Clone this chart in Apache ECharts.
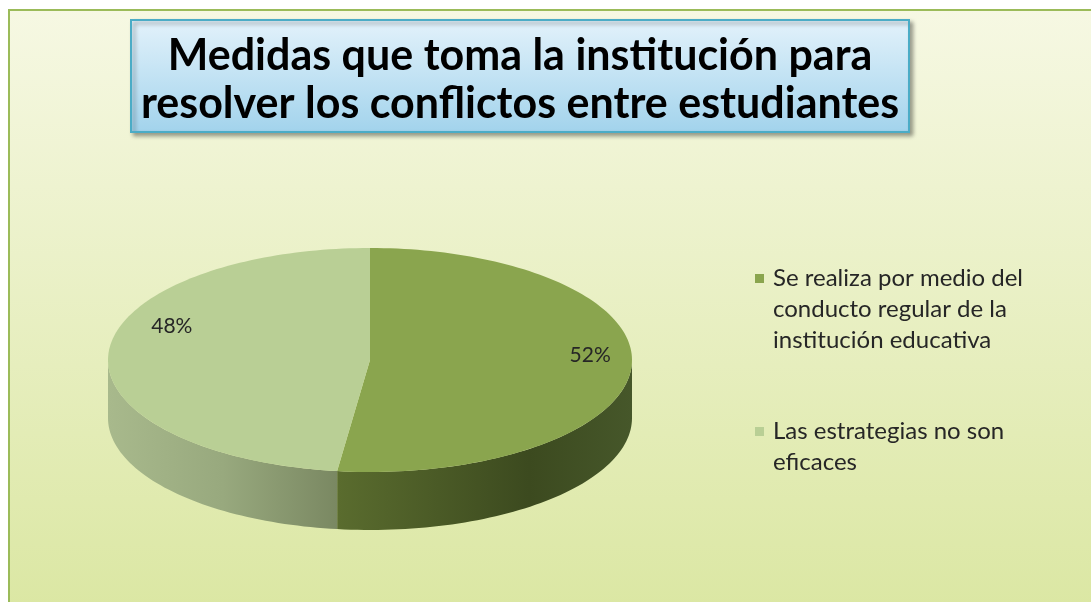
<!DOCTYPE html>
<html>
<head>
<meta charset="utf-8">
<script src="https://cdn.jsdelivr.net/npm/echarts@6/dist/echarts.min.js"></script>
<style>
  html, body { margin: 0; padding: 0; background: #fff; }
  #chart { width: 1091px; height: 602px; }
</style>
</head>
<body>
<div id="chart"></div>
<script>
const titleText = 'Medidas que toma la institución para\nresolver los conflictos entre estudiantes';
const categories = [
  'Se realiza por medio del conducto regular de la institución educativa',
  'Las estrategias no son eficaces'
];
const legendLabels = [
  'Se realiza por medio del\nconducto regular de la\ninstitución educativa',
  'Las estrategias no son\neficaces'
];
const values = [52, 48];

// look
const topColors = ['#8aa54e', '#b9cf95'];
const sideStops = [
  [['#5a6c2e', 0], ['#3c4a1f', 0.65], ['#46572a', 1]],
  [['#a8b98c', 0], ['#98a97e', 0.5], ['#7a8862', 1]]
];
const labelNudge = [[11, -10], [11, -28]];
const pie = { cx: 370, cy: 360, rx: 262, ry: 112, depth: 58 };
const LINE_H = 31;

const total = values.reduce((a, b) => a + b, 0);
const starts = values.map((v, i) => values.slice(0, i).reduce((a, b) => a + b, 0));

function arcPoints(s, e, dy) {
  const n = Math.max(2, Math.ceil((e - s) / (Math.PI / 120)));
  const pts = [];
  for (let k = 0; k <= n; k++) {
    const t = s + (e - s) * k / n;
    pts.push([pie.cx + pie.rx * Math.sin(t), pie.cy - pie.ry * Math.cos(t) + dy]);
  }
  return pts;
}

function makeRender(idx) {
  return function (params, api) {
    const start = api.value(0);
    const val = api.value(1);
    const a0 = start / total * Math.PI * 2;
    const a1 = (start + val) / total * Math.PI * 2;
    const children = [];
    // top face
    children.push({
      type: 'polygon',
      z2: 10,
      shape: { points: [[pie.cx, pie.cy]].concat(arcPoints(a0, a1, 0)) },
      style: { fill: topColors[idx] }
    });
    // front wall (only the lower half of the ellipse is visible)
    const s = Math.max(a0, Math.PI / 2);
    const e = Math.min(a1, Math.PI * 1.5);
    if (e > s) {
      const upper = arcPoints(s, e, 0);
      const lower = arcPoints(s, e, pie.depth).reverse();
      children.push({
        type: 'polygon',
        z2: 1,
        shape: { points: upper.concat(lower) },
        style: {
          fill: {
            type: 'linear', x: 0, y: 0, x2: 1, y2: 0,
            colorStops: sideStops[idx].map(c => ({ offset: c[1], color: c[0] }))
          }
        }
      });
    }
    // percent label
    const m = (a0 + a1) / 2;
    children.push({
      type: 'text',
      z2: 20,
      style: {
        text: Math.round(val / total * 100) + '%',
        x: pie.cx + pie.rx * 0.8 * Math.sin(m) + labelNudge[idx][0],
        y: pie.cy - pie.ry * 0.8 * Math.cos(m) + labelNudge[idx][1],
        align: 'center',
        verticalAlign: 'middle',
        fontFamily: 'Lato',
        fontSize: 21,
        fill: '#262626'
      }
    });
    return { type: 'group', children: children };
  };
}

const chart = echarts.init(document.getElementById('chart'));

chart.setOption({
  animation: false,
  graphic: [{
    type: 'rect',
    z: -1,
    silent: true,
    shape: { x: 9, y: 10, width: 1090, height: 600 },
    style: {
      fill: {
        type: 'linear', x: 0, y: 0, x2: 0, y2: 1,
        colorStops: [{ offset: 0, color: '#f6f8e3' }, { offset: 1, color: '#dbe7a3' }]
      },
      stroke: '#9bbb59',
      lineWidth: 2
    }
  }],
  title: {
    text: titleText,
    left: 520 - 10,
    top: 20,
    padding: [12, 10, 4, 10],
    textAlign: 'center',
    textVerticalAlign: 'top',
    textStyle: {
      fontFamily: 'Lato',
      fontWeight: 'bold',
      fontSize: 43,
      lineHeight: 48,
      color: '#000'
    },
    backgroundColor: {
      type: 'linear', x: 0, y: 0, x2: 0, y2: 1,
      colorStops: [{ offset: 0, color: '#e3f2fb' }, { offset: 1, color: '#a2d3ec' }]
    },
    borderColor: '#4bacc6',
    borderWidth: 2,
    shadowBlur: 4,
    shadowColor: 'rgba(0,0,0,0.35)',
    shadowOffsetX: 3,
    shadowOffsetY: 3
  },
  legend: {
    orient: 'vertical',
    left: 755,
    top: 201,
    padding: 0,
    itemGap: 29,
    itemWidth: 9,
    itemHeight: 9,
    icon: 'rect',
    data: categories,
    // blank lines on top keep the marker level with the first text line
    formatter: name => {
      const label = legendLabels[categories.indexOf(name)];
      return '\n'.repeat(label.split('\n').length - 1) + label;
    },
    textStyle: { fontFamily: 'Lato', fontSize: 24, lineHeight: LINE_H, color: '#262626', padding: [0, 0, 0, 4] }
  },
  series: categories.map((name, i) => ({
    type: 'custom',
    name: name,
    coordinateSystem: 'none',
    silent: true,
    itemStyle: { color: topColors[i] },
    renderItem: makeRender(i),
    data: [[starts[i], values[i]]]
  }))
});
</script>
</body>
</html>
